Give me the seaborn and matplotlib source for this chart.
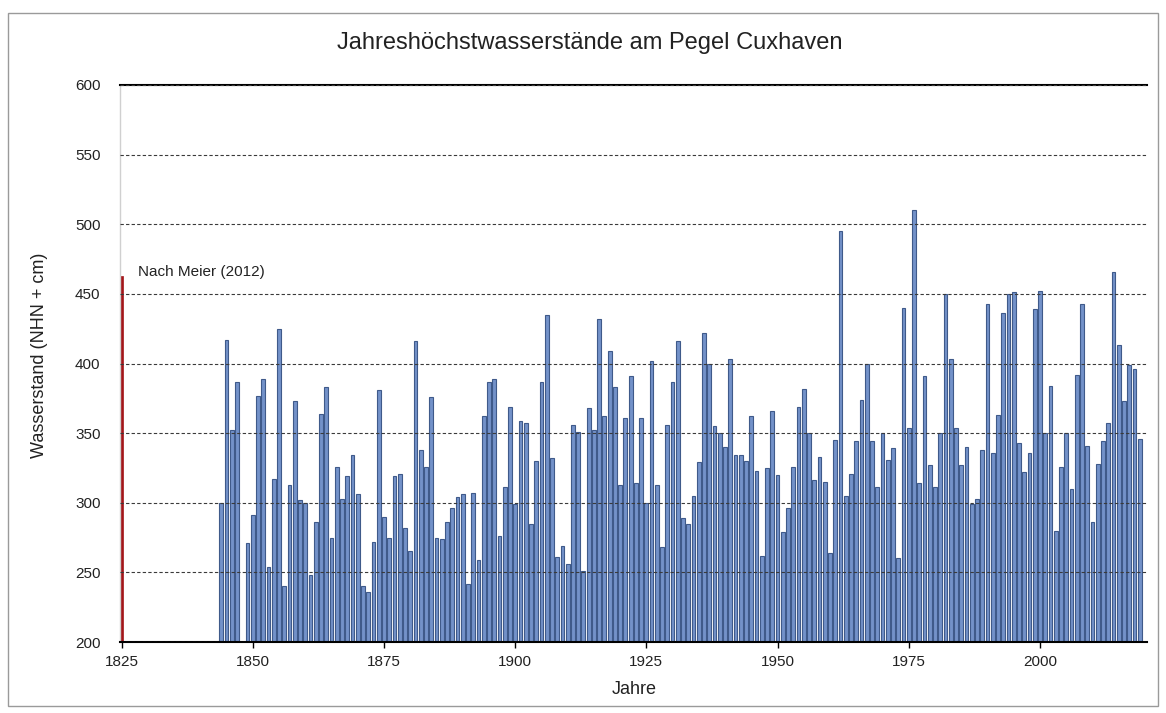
import numpy as np
import pandas as pd
import matplotlib
matplotlib.use("Agg")
import matplotlib.pyplot as plt
from matplotlib.patches import Rectangle
import seaborn as sns

# hydrological years 1844-2019, no value for 1848
years = list(range(1844, 2020))
levels = [
    300, 417, 352, 387, np.nan, 271, 291, 377, 389, 254,   # 1844-1853
    317, 425, 240, 313, 373, 302, 300, 248, 286, 364,      # 1854-1863
    383, 275, 326, 303, 319, 334, 306, 240, 236, 272,      # 1864-1873
    381, 290, 275, 319, 321, 282, 265, 416, 338, 326,      # 1874-1883
    376, 275, 274, 286, 296, 304, 306, 242, 307, 259,      # 1884-1893
    362, 387, 389, 276, 311, 369, 299, 359, 357, 285,      # 1894-1903
    330, 387, 435, 332, 261, 269, 256, 356, 351, 251,      # 1904-1913
    368, 352, 432, 362, 409, 383, 313, 361, 391, 314,      # 1914-1923
    361, 300, 402, 313, 268, 356, 387, 416, 289, 285,      # 1924-1933
    305, 329, 422, 400, 355, 350, 340, 403, 334, 334,      # 1934-1943
    330, 362, 323, 262, 325, 366, 320, 279, 296, 326,      # 1944-1953
    369, 382, 350, 316, 333, 315, 264, 345, 495, 305,      # 1954-1963
    321, 344, 374, 400, 344, 311, 350, 331, 339, 260,      # 1964-1973
    440, 354, 510, 314, 391, 327, 311, 350, 450, 403,      # 1974-1983
    354, 327, 340, 299, 303, 338, 443, 336, 363, 436,      # 1984-1993
    450, 451, 343, 322, 336, 439, 452, 350, 384, 280,      # 1994-2003
    326, 350, 310, 392, 443, 341, 286, 328, 344, 357,      # 2004-2013
    466, 413, 373, 399, 396, 346,                          # 2014-2019
]

# historic event after Meier (2012)
meier_year = [1825]
meier_level = [463]

df = pd.DataFrame({"Jahr": years, "Wasserstand": levels}).dropna()
meier = pd.DataFrame({"Jahr": meier_year, "Wasserstand": meier_level})

sns.set_style("white")
plt.rcParams["font.family"] = ["Liberation Sans", "DejaVu Sans"]

fig = plt.figure(figsize=(11.66, 7.13), dpi=100)
ax = fig.add_axes([120 / 1166, 1 - 642 / 713, 1027 / 1166, 557 / 713])

sns.barplot(data=df, x="Jahr", y="Wasserstand", native_scale=True, width=0.72,
            color="#7392c9", edgecolor="#3f5a8a", linewidth=0.8,
            errorbar=None, saturation=1, ax=ax)
sns.barplot(data=meier, x="Jahr", y="Wasserstand", native_scale=True, width=0.6,
            color="#a3161a", edgecolor="#a3161a", linewidth=0.5,
            errorbar=None, saturation=1, ax=ax)

ax.set_xlim(1824.7, 2020.4)
ax.set_ylim(200, 600)
ax.set_yticks(range(200, 601, 50))
ax.set_xticks(range(1825, 2001, 25))
ax.set_xticklabels([str(y) for y in range(1825, 2001, 25)])

ax.yaxis.grid(True, linestyle=(0, (3, 2)), color="#3a3a3a", linewidth=0.8)
ax.xaxis.grid(False)
ax.set_axisbelow(False)

for side in ["top", "bottom"]:
    ax.spines[side].set_color("black")
    ax.spines[side].set_linewidth(1.5)
ax.spines["left"].set_color("#d0d0d0")
ax.spines["left"].set_linewidth(1)
ax.spines["right"].set_visible(False)

ax.tick_params(axis="y", length=0, pad=14, labelsize=11, labelcolor="#222222")
ax.tick_params(axis="x", direction="out", length=4, width=1, color="black",
               bottom=True, pad=5, labelsize=11, labelcolor="#222222")

ax.set_xlabel("")
ax.set_ylabel("")
ax.text(1828.2, 466, "Nach Meier (2012)", fontsize=11, va="center", ha="left",
        color="#222222")

fig.text(590 / 1166, 1 - 43 / 713, "Jahreshöchstwasserstände am Pegel Cuxhaven",
         fontsize=17, ha="center", va="center", color="#222222")
fig.text(40 / 1166, 1 - 355 / 713, "Wasserstand (NHN + cm)", fontsize=13,
         rotation=90, ha="center", va="center", color="#222222")
fig.text(634 / 1166, 1 - 690 / 713, "Jahre", fontsize=13, ha="center",
         va="center", color="#222222")

fig.add_artist(Rectangle((8 / 1166, 1 - 706 / 713), 1150 / 1166, 693 / 713,
                         transform=fig.transFigure, fill=False,
                         edgecolor="#9a9a9a", linewidth=1))

fig.savefig("out.png", dpi=100)
